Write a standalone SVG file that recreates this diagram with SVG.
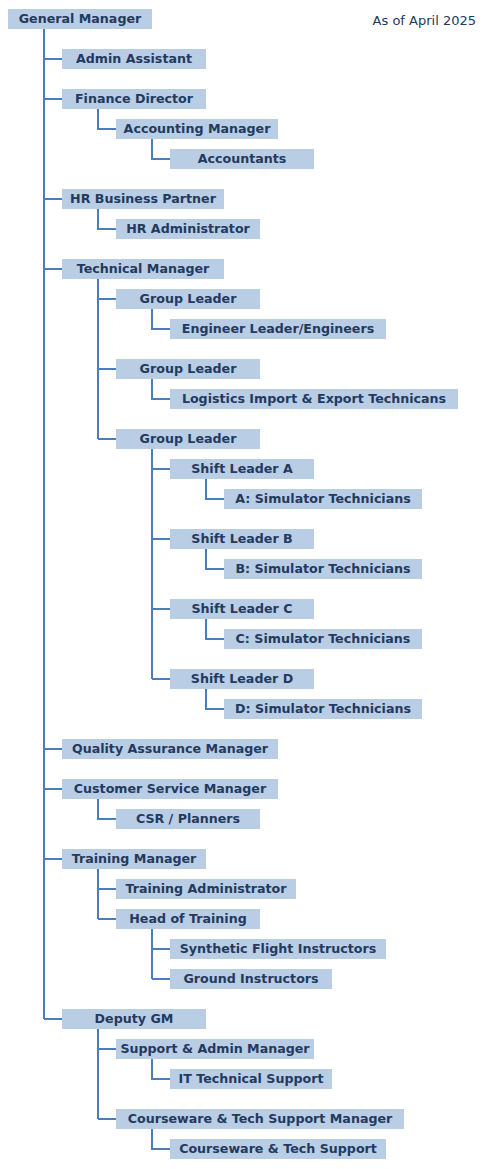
<svg xmlns="http://www.w3.org/2000/svg" width="485" height="1169" viewBox="0 0 485 1169">
<style>
.b{fill:#b9cde5}
.t{font-family:"DejaVu Sans",Verdana,sans-serif;font-weight:bold;font-size:12.65px;fill:#233a5e;text-anchor:middle}
.c{fill:none;stroke:#4a7ebb;stroke-width:2}
.d{font-family:"DejaVu Sans",Verdana,sans-serif;font-size:13px;fill:#233a5e;text-anchor:end}
</style>
<rect width="485" height="1169" fill="#fff"/>
<text class="d" x="476" y="25">As of April 2025</text>
<g id="connectors" class="c">
<path d="M44 29V1019M44 59H62M44 99H62M44 199H62M44 269H62M44 749H62M44 789H62M44 859H62M44 1019H62"/>
<path d="M98 109V129H116M152 139V159H170"/>
<path d="M98 209V229H116"/>
<path d="M98 279V439M98 299H116M98 369H116M98 439H116"/>
<path d="M152 309V329H170M152 379V399H170M152 449V679M152 469H170M152 539H170M152 609H170M152 679H170"/>
<path d="M206 479V499H224M206 549V569H224M206 619V639H224M206 689V709H224"/>
<path d="M98 799V819H116"/>
<path d="M98 869V919M98 889H116M98 919H116M152 929V979M152 949H170M152 979H170"/>
<path d="M98 1029V1119M98 1049H116M98 1119H116M152 1059V1079H170M152 1129V1149H170"/>
</g>
<g id="n1"><rect class="b" x="8" y="9" width="144" height="20"/><text class="t" x="80" y="22.9">General Manager</text></g>
<g id="n2"><rect class="b" x="62" y="49" width="144" height="20"/><text class="t" x="134" y="62.9">Admin Assistant</text></g>
<g id="n3"><rect class="b" x="62" y="89" width="144" height="20"/><text class="t" x="134" y="102.9">Finance Director</text></g>
<g id="n4"><rect class="b" x="116" y="119" width="162" height="20"/><text class="t" x="197" y="132.9">Accounting Manager</text></g>
<g id="n5"><rect class="b" x="170" y="149" width="144" height="20"/><text class="t" x="242" y="162.9">Accountants</text></g>
<g id="n6"><rect class="b" x="62" y="189" width="162" height="20"/><text class="t" x="143" y="202.9">HR Business Partner</text></g>
<g id="n7"><rect class="b" x="116" y="219" width="144" height="20"/><text class="t" x="188" y="232.9">HR Administrator</text></g>
<g id="n8"><rect class="b" x="62" y="259" width="162" height="20"/><text class="t" x="143" y="272.9">Technical Manager</text></g>
<g id="n9"><rect class="b" x="116" y="289" width="144" height="20"/><text class="t" x="188" y="302.9">Group Leader</text></g>
<g id="n10"><rect class="b" x="170" y="319" width="216" height="20"/><text class="t" x="278" y="332.9">Engineer Leader/Engineers</text></g>
<g id="n11"><rect class="b" x="116" y="359" width="144" height="20"/><text class="t" x="188" y="372.9">Group Leader</text></g>
<g id="n12"><rect class="b" x="170" y="389" width="288" height="20"/><text class="t" x="314" y="402.9">Logistics Import &amp; Export Technicans</text></g>
<g id="n13"><rect class="b" x="116" y="429" width="144" height="20"/><text class="t" x="188" y="442.9">Group Leader</text></g>
<g id="n14"><rect class="b" x="170" y="459" width="144" height="20"/><text class="t" x="242" y="472.9">Shift Leader A</text></g>
<g id="n15"><rect class="b" x="224" y="489" width="198" height="20"/><text class="t" x="323" y="502.9">A: Simulator Technicians</text></g>
<g id="n16"><rect class="b" x="170" y="529" width="144" height="20"/><text class="t" x="242" y="542.9">Shift Leader B</text></g>
<g id="n17"><rect class="b" x="224" y="559" width="198" height="20"/><text class="t" x="323" y="572.9">B: Simulator Technicians</text></g>
<g id="n18"><rect class="b" x="170" y="599" width="144" height="20"/><text class="t" x="242" y="612.9">Shift Leader C</text></g>
<g id="n19"><rect class="b" x="224" y="629" width="198" height="20"/><text class="t" x="323" y="642.9">C: Simulator Technicians</text></g>
<g id="n20"><rect class="b" x="170" y="669" width="144" height="20"/><text class="t" x="242" y="682.9">Shift Leader D</text></g>
<g id="n21"><rect class="b" x="224" y="699" width="198" height="20"/><text class="t" x="323" y="712.9">D: Simulator Technicians</text></g>
<g id="n22"><rect class="b" x="62" y="739" width="216" height="20"/><text class="t" x="170" y="752.9">Quality Assurance Manager</text></g>
<g id="n23"><rect class="b" x="62" y="779" width="216" height="20"/><text class="t" x="170" y="792.9">Customer Service Manager</text></g>
<g id="n24"><rect class="b" x="116" y="809" width="144" height="20"/><text class="t" x="188" y="822.9">CSR / Planners</text></g>
<g id="n25"><rect class="b" x="62" y="849" width="144" height="20"/><text class="t" x="134" y="862.9">Training Manager</text></g>
<g id="n26"><rect class="b" x="116" y="879" width="180" height="20"/><text class="t" x="206" y="892.9">Training Administrator</text></g>
<g id="n27"><rect class="b" x="116" y="909" width="144" height="20"/><text class="t" x="188" y="922.9">Head of Training</text></g>
<g id="n28"><rect class="b" x="170" y="939" width="216" height="20"/><text class="t" x="278" y="952.9">Synthetic Flight Instructors</text></g>
<g id="n29"><rect class="b" x="170" y="969" width="162" height="20"/><text class="t" x="251" y="982.9">Ground Instructors</text></g>
<g id="n30"><rect class="b" x="62" y="1009" width="144" height="20"/><text class="t" x="134" y="1022.9">Deputy GM</text></g>
<g id="n31"><rect class="b" x="116" y="1039" width="198" height="20"/><text class="t" x="215" y="1052.9">Support &amp; Admin Manager</text></g>
<g id="n32"><rect class="b" x="170" y="1069" width="162" height="20"/><text class="t" x="251" y="1082.9">IT Technical Support</text></g>
<g id="n33"><rect class="b" x="116" y="1109" width="288" height="20"/><text class="t" x="260" y="1122.9">Courseware &amp; Tech Support Manager</text></g>
<g id="n34"><rect class="b" x="170" y="1139" width="216" height="20"/><text class="t" x="278" y="1152.9">Courseware &amp; Tech Support</text></g>
</svg>
